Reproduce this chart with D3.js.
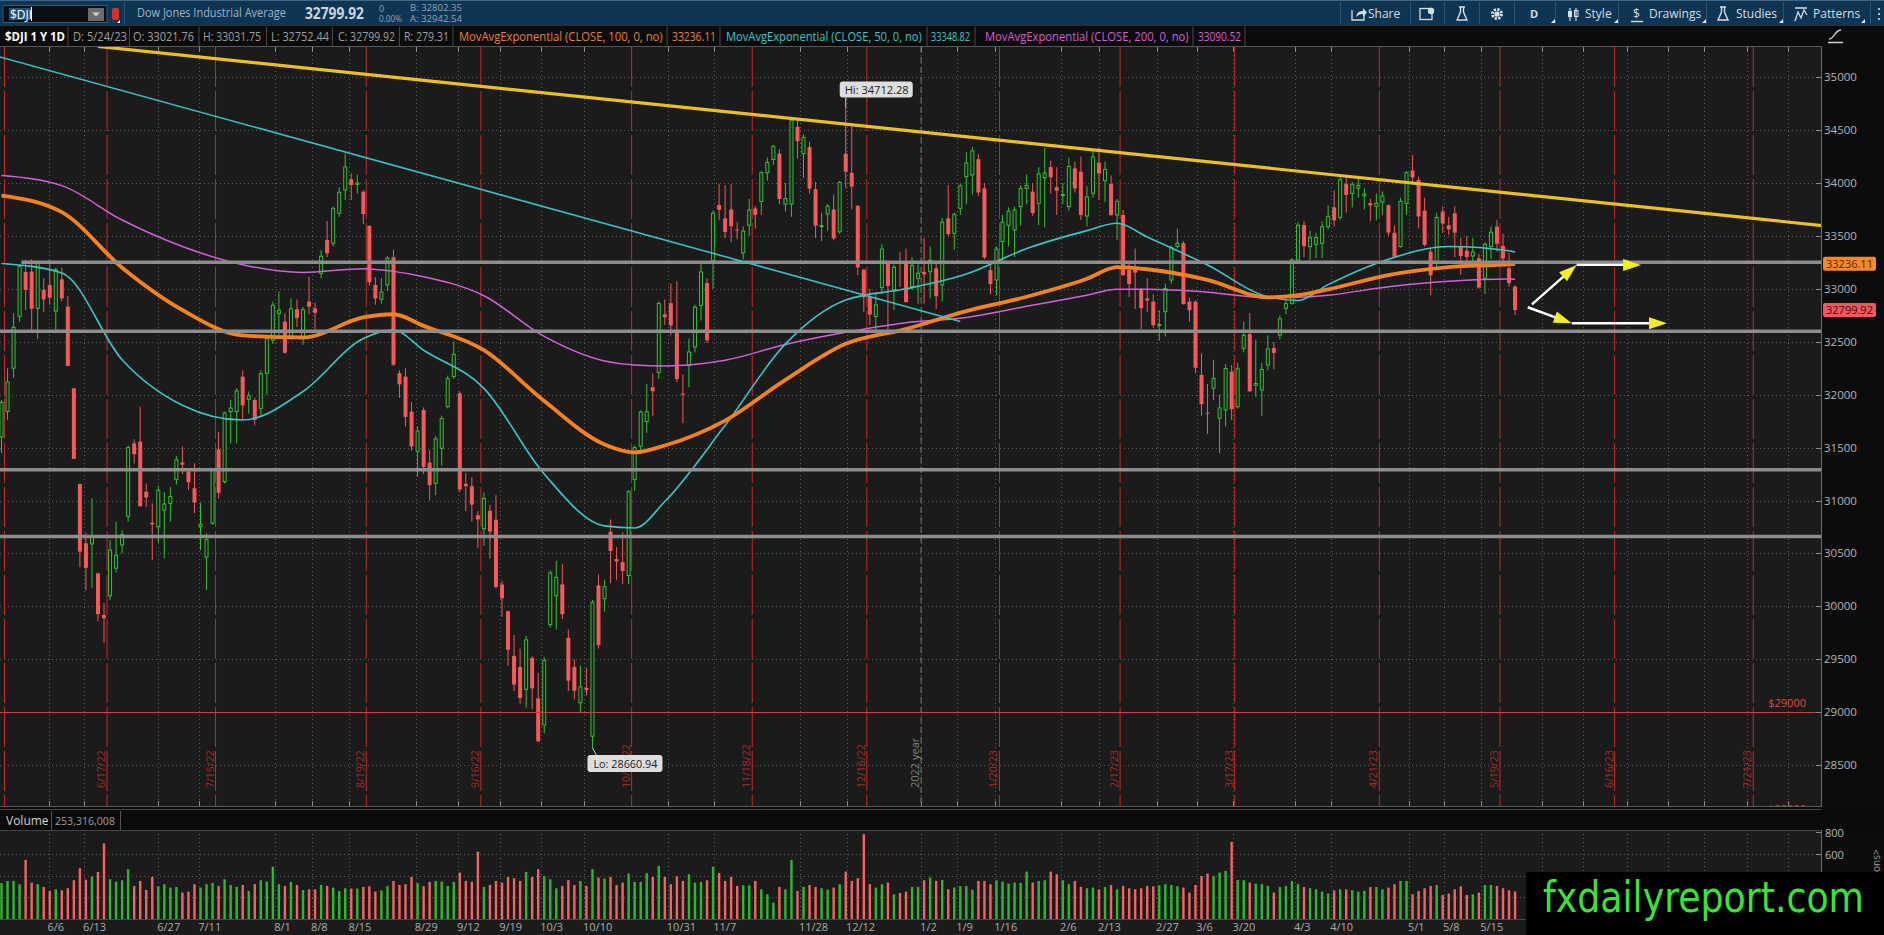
<!DOCTYPE html>
<html>
<head>
<meta charset="utf-8">
<script src="https://cdn.jsdelivr.net/npm/d3@7"></script>
<style>
  body { margin: 0; background: #0b0b0b; overflow: hidden; }
  svg text { font-family: "Open Sans", "DejaVu Sans", sans-serif; }
</style>
</head>
<body>
<svg id="chart"></svg>
<script>
// ---- sessions (trading days), month by month ----
const sessionMonths = [
  [5, 22, [24, 25, 26, 27, 31]],
  [6, 22, [1, 2, 3, 6, 7, 8, 9, 10, 13, 14, 15, 16, 17, 21, 22, 23, 24, 27, 28, 29, 30]],
  [7, 22, [1, 5, 6, 7, 8, 11, 12, 13, 14, 15, 18, 19, 20, 21, 22, 25, 26, 27, 28, 29]],
  [8, 22, [1, 2, 3, 4, 5, 8, 9, 10, 11, 12, 15, 16, 17, 18, 19, 22, 23, 24, 25, 26, 29, 30, 31]],
  [9, 22, [1, 2, 6, 7, 8, 9, 12, 13, 14, 15, 16, 19, 20, 21, 22, 23, 26, 27, 28, 29, 30]],
  [10, 22, [3, 4, 5, 6, 7, 10, 11, 12, 13, 14, 17, 18, 19, 20, 21, 24, 25, 26, 27, 28, 31]],
  [11, 22, [1, 2, 3, 4, 7, 8, 9, 10, 11, 14, 15, 16, 17, 18, 21, 22, 23, 25, 28, 29, 30]],
  [12, 22, [1, 2, 5, 6, 7, 8, 9, 12, 13, 14, 15, 16, 19, 20, 21, 22, 23, 27, 28, 29, 30]],
  [1, 23, [3, 4, 5, 6, 9, 10, 11, 12, 13, 17, 18, 19, 20, 23, 24, 25, 26, 27, 30, 31]],
  [2, 23, [1, 2, 3, 6, 7, 8, 9, 10, 13, 14, 15, 16, 17, 21, 22, 23, 24, 27, 28]],
  [3, 23, [1, 2, 3, 6, 7, 8, 9, 10, 13, 14, 15, 16, 17, 20, 21, 22, 23, 24, 27, 28, 29, 30, 31]],
  [4, 23, [3, 4, 5, 6, 10, 11, 12, 13, 14, 17, 18, 19, 20, 21, 24, 25, 26, 27, 28]],
  [5, 23, [1, 2, 3, 4, 5, 8, 9, 10, 11, 12, 15, 16, 17, 18, 19, 22, 23, 24, 25, 26, 30, 31]],
  [6, 23, [1, 2, 5, 6, 7, 8, 9, 12, 13, 14, 15, 16, 20, 21, 22, 23, 26, 27, 28, 29, 30]],
  [7, 23, [3, 5, 6, 7, 10, 11, 12, 13, 14, 17, 18, 19, 20, 21, 24, 25, 26, 27, 28, 31]]
];

// ---- daily OHLC, 5/24/22 .. 5/24/23 ----
const opens = [
  31600, 31840, 32250, 32740, 33160, 33163, 32816, 32989, 33036, 32790,
  33090, 32832, 32060, 31156, 30595, 30590, 30311, 29918, 30100, 30360,
  30580, 30850, 31540, 31556, 31084, 30790, 30753, 30910, 30973, 31200,
  31358, 31273, 31115, 30753, 30465, 30785, 31484, 31178, 31840, 31840,
  32170, 31957, 31950, 31871, 32202, 32517, 32769, 32690, 32548, 32807,
  32533, 32879, 32816, 33147, 33462, 33430, 33714, 33934, 34035, 33987,
  33918, 33594, 33037, 32901, 33037, 33298, 32202, 32170, 31840, 31462,
  31855, 31358, 31162, 31494, 31887, 32170, 32013, 31157, 31135, 30860,
  30734, 30903, 30818, 30207, 29954, 29532, 29427, 29216, 29511, 29131,
  28878, 29827, 30101, 30207, 29701, 29427, 29089, 29230, 28773, 30198,
  30072, 30705, 30447, 30418, 30291, 31198, 31514, 31746, 32071, 32210,
  32759, 32864, 32590, 32010, 32274, 32451, 32843, 33054, 33265, 33792,
  33666, 33750, 33560, 33340, 33602, 33759, 33826, 34096, 34222, 34277,
  33800, 33801, 34531, 34277, 34340, 33940, 33590, 33708, 33750, 33539,
  34277, 34096, 33784, 33181, 32928, 32738, 33012, 33244, 32991, 33244,
  33257, 33021, 33100, 33160, 33162, 33194, 33036, 33666, 33525, 33761,
  34060, 34076, 34224, 33950, 33178, 33084, 33446, 33600, 33556, 33777,
  33950, 33918, 33808, 34050, 34150, 33960, 33890, 33777, 34139, 34107,
  33688, 33903, 34192, 34022, 33990, 33698, 33698, 33178, 33200, 32995,
  32910, 32879, 32660, 32784, 33084, 33400, 33430, 32879, 32879, 32186,
  31830, 32060, 31777, 31855, 32217, 31887, 32438, 32573, 32090, 32044,
  32280, 32440, 32564, 32816, 32863, 33273, 33603, 33399, 33420, 33430,
  33587, 33770, 33676, 33990, 33900, 33950, 33880, 33810, 33780, 33820,
  33790, 33530, 33400, 33808, 34117, 34029, 33739, 33352, 33241, 33730,
  33600, 33714, 33399, 33360, 33310, 33289, 33100, 33399, 33588, 33405,
  33194, 33022
];
const highs = [
  31950, 32249, 32769, 33225, 33273, 33280, 33257, 33100, 33272, 33200,
  33200, 32930, 32060, 31160, 30690, 31020, 30320, 30030, 30626, 30800,
  30720, 31520, 31580, 31887, 31160, 30973, 31140, 31080, 31130, 31420,
  31510, 31290, 31350, 30980, 30690, 31300, 31650, 31840, 31950, 32060,
  32230, 32030, 31970, 32230, 32560, 32880, 32975, 32770, 32910, 32900,
  32830, 33115, 32870, 33365, 33640, 33780, 33960, 34281, 34090, 34080,
  33930, 33600, 33110, 33100, 33310, 33370, 32230, 32250, 31930, 31700,
  31880, 31480, 31610, 31800, 32180, 32501, 32030, 31260, 31220, 30900,
  31075, 30960, 31050, 30240, 29960, 29730, 29600, 29720, 29530, 29370,
  29520, 30340, 30430, 30400, 29780, 29500, 29440, 29420, 30060, 30300,
  30250, 30820, 30560, 30700, 31100, 31520, 31850, 32100, 32200, 32880,
  32900, 33050, 33070, 32190, 32530, 32850, 33250, 33100, 33740, 33990,
  33980, 33990, 33630, 33590, 33850, 33780, 34110, 34240, 34360, 34320,
  34000, 34590, 34595, 34460, 34390, 34010, 33720, 33800, 33890, 34020,
  34712, 34550, 33790, 33190, 33000, 32950, 33420, 33250, 33230, 33350,
  33380, 33300, 33230, 33480, 33400, 33250, 33670, 33980, 33720, 33990,
  34290, 34340, 34270, 34000, 33260, 33400, 33700, 33770, 33780, 33980,
  34080, 34000, 34150, 34330, 34210, 34150, 34000, 34240, 34200, 34250,
  33970, 34310, 34330, 34200, 34070, 33850, 33745, 33250, 33380, 33010,
  33100, 32950, 32800, 33050, 33410, 33570, 33450, 32920, 32890, 32390,
  32100, 32330, 32000, 32290, 32280, 32300, 32690, 32770, 32520, 32300,
  32560, 32500, 32750, 32900, 33290, 33630, 33640, 33550, 33530, 33640,
  33790, 33930, 34060, 34070, 34010, 34070, 33950, 33850, 33900, 33920,
  33800, 33600, 33860, 34110, 34265, 34060, 33860, 33380, 33720, 33780,
  33680, 33780, 33480, 33500, 33480, 33330, 33440, 33590, 33650, 33520,
  33340, 33032
];
const lows = [
  31450, 31761, 32160, 32690, 32800, 32612, 32530, 32780, 32850, 32580,
  32880, 32270, 31390, 30370, 30150, 30170, 29860, 29653, 30060, 30320,
  30500, 30800, 31350, 30940, 30940, 30438, 30600, 30455, 30800, 31150,
  31250, 31100, 30880, 30532, 30155, 30770, 31020, 31160, 31540, 31540,
  31760, 31820, 31710, 31800, 32000, 32480, 32530, 32390, 32520, 32640,
  32470, 32760, 32620, 33100, 33300, 33400, 33680, 33840, 33840, 33900,
  33610, 33030, 32850, 32860, 32980, 32270, 31970, 31700, 31470, 31225,
  31250, 31000, 31050, 31330, 31870, 32150, 31080, 30900, 30800, 30550,
  30570, 30450, 30170, 29900, 29440, 29200, 29080, 29040, 29030, 28715,
  28800, 29800, 29780, 29880, 29200, 29120, 28990, 29160, 28661, 29600,
  29950, 30220, 30250, 30210, 30210, 31090, 31440, 31640, 31800, 32150,
  32660, 32560, 32120, 31730, 32070, 32400, 32700, 32490, 33000, 33650,
  33480, 33440, 33470, 33280, 33500, 33570, 33700, 34020, 34170, 33800,
  33730, 33680, 34230, 34050, 33900, 33480, 33450, 33550, 33460, 33520,
  33950, 33750, 33130, 32780, 32660, 32580, 32950, 32580, 32800, 33020,
  32870, 32990, 32860, 32860, 32910, 32810, 32880, 33500, 33370, 33700,
  33800, 33890, 33880, 33280, 32950, 32940, 33250, 33400, 33300, 33600,
  33800, 33690, 33600, 33580, 33900, 33700, 33800, 33740, 33910, 33650,
  33590, 33860, 33840, 33820, 33690, 33460, 33120, 32920, 32810, 32620,
  32780, 32630, 32510, 32550, 33050, 33380, 32850, 32690, 32200, 31800,
  31630, 31950, 31446, 31700, 31760, 31870, 32400, 32030, 31980, 31800,
  32230, 32240, 32520, 32760, 32850, 33270, 33300, 33270, 33290, 33290,
  33560, 33590, 33650, 33720, 33770, 33860, 33750, 33640, 33650, 33700,
  33500, 33290, 33390, 33700, 34000, 33570, 33400, 32940, 33200, 33530,
  33510, 33300, 33130, 33230, 33200, 33000, 32950, 33280, 33350, 33240,
  33020, 32752
];
const closes = [
  31928, 32120, 32637, 33213, 32990, 32813, 33248, 32900, 32916, 33180,
  32910, 32272, 31393, 30517, 30364, 30668, 29927, 29888, 30530, 30483,
  30677, 31500, 31438, 30947, 31029, 30775, 31097, 30967, 31037, 31384,
  31338, 31173, 30981, 30772, 30630, 31288, 31072, 31827, 31874, 32036,
  31899, 31990, 31761, 32198, 32529, 32845, 32798, 32396, 32812, 32726,
  32803, 32832, 32774, 33309, 33336, 33761, 33912, 34152, 33980, 33999,
  33706, 33063, 32909, 32969, 33291, 32283, 32098, 31790, 31510, 31656,
  31318, 31145, 31581, 31774, 32151, 32381, 31104, 31135, 30961, 30822,
  31019, 30706, 30183, 30076, 29590, 29260, 29134, 29683, 29225, 28725,
  29490, 30316, 30273, 29926, 29297, 29202, 29239, 29210, 30038, 29634,
  30185, 30523, 30423, 30333, 31082, 31499, 31836, 31839, 32033, 32861,
  32732, 32653, 32147, 32001, 32403, 32827, 33160, 32513, 33715, 33747,
  33536, 33592, 33553, 33546, 33745, 33700, 34098, 34194, 34347, 33849,
  33852, 34589, 34395, 34429, 33947, 33596, 33597, 33781, 33476, 34005,
  34108, 33966, 33202, 32920, 32757, 32849, 33376, 33027, 33203, 33241,
  32875, 33220, 33147, 33136, 33269, 32930, 33631, 33517, 33704, 33973,
  34189, 34303, 33910, 33297, 33044, 33375, 33630, 33734, 33744, 33949,
  33978, 33717, 34086, 34093, 34054, 33926, 33891, 34156, 33949, 33699,
  33869, 34246, 34089, 34128, 33697, 33826, 33130, 33045, 33153, 32817,
  32889, 32657, 32662, 33004, 33391, 33431, 32856, 32798, 32255, 31910,
  31820, 32155, 31875, 32247, 31862, 32245, 32561, 32031, 32106, 32238,
  32432, 32395, 32717, 32860, 33274, 33601, 33403, 33483, 33485, 33587,
  33685, 33647, 34030, 33887, 33988, 33977, 33897, 33787, 33809, 33876,
  33531, 33302, 33827, 34098, 34052, 33684, 33415, 33128, 33674, 33618,
  33562, 33531, 33309, 33301, 33348, 33012, 33420, 33535, 33427, 33286,
  33055, 32799.92
];
// volume, millions of shares
const volumes = [
  330, 350, 350, 320, 544, 335, 320, 295, 258, 273,
  264, 283, 356, 467, 362, 390, 433, 695, 366, 344,
  356, 458, 304, 350, 267, 387, 301, 320, 289, 295,
  243, 252, 320, 289, 320, 332, 304, 366, 313, 295,
  313, 258, 320, 356, 344, 480, 320, 304, 341, 313,
  267, 273, 273, 313, 304, 289, 258, 283, 280, 280,
  295, 301, 252, 264, 301, 350, 313, 320, 387, 329,
  301, 341, 350, 344, 304, 341, 427, 350, 344, 620,
  295, 313, 350, 335, 387, 375, 350, 433, 387, 458,
  396, 366, 283, 304, 359, 313, 350, 304, 458, 381,
  372, 387, 313, 335, 418, 341, 341, 421, 387, 488,
  387, 320, 393, 350, 412, 335, 341, 356, 480, 424,
  350, 387, 304, 310, 310, 350, 273, 227, 150, 295,
  273, 544, 258, 295, 313, 295, 283, 270, 289, 320,
  436, 350, 375, 780, 320, 289, 320, 335, 227, 240,
  252, 295, 295, 356, 381, 350, 359, 273, 289, 301,
  304, 270, 350, 350, 320, 356, 344, 326, 335, 332,
  436, 335, 350, 356, 436, 412, 356, 320, 350, 295,
  283, 289, 273, 295, 313, 273, 304, 283, 273, 283,
  304, 301, 310, 320, 313, 301, 289, 243, 313, 396,
  418, 396, 427, 442, 710, 359, 356, 335, 326, 320,
  304, 243, 295, 304, 350, 320, 295, 283, 273, 252,
  234, 264, 273, 273, 264, 252, 258, 295, 295, 273,
  289, 320, 350, 350, 227, 258, 283, 304, 313, 221,
  234, 273, 301, 221, 227, 243, 313, 313, 304, 283,
  264, 253.316008
];

// ---- moving averages at these bar slots ----
const maSlots = [0, 10, 20, 30, 40, 50, 60, 65, 70, 80, 90, 100, 105, 110, 120, 130, 140, 150, 160, 170, 180, 185, 190, 200, 210, 215, 220, 230, 240, 250, 251];
const ema50 = [33240, 33150, 32330, 31900, 31760, 32030, 32530, 32610, 32420, 32060, 31250, 30760, 30740, 30990, 31710, 32480, 32895, 33000, 33140, 33380, 33550, 33619, 33490, 33225, 32925, 32890, 33040, 33280, 33400, 33360, 33348.82];
const ema100 = [33880, 33725, 33200, 32800, 32560, 32540, 32730, 32760, 32650, 32420, 31940, 31530, 31455, 31520, 31755, 32140, 32480, 32620, 32790, 32925, 33095, 33205, 33185, 33085, 32920, 32940, 32995, 33130, 33205, 33232, 33236.11];
const ema200 = [34070, 33975, 33650, 33400, 33227, 33155, 33190, 33165, 33115, 32935, 32550, 32318, 32280, 32272, 32325, 32475, 32590, 32680, 32730, 32835, 32940, 32995, 32995, 32968, 32915, 32920, 32940, 33020, 33072, 33093, 33090.52];

// ---- axes ----
const priceTicks = [28500, 29000, 29500, 30000, 30500, 31000, 31500, 32000, 32500, 33000, 33500, 34000, 34500, 35000];
const volumeTicks = [600, 800];
const tickLabels = ["6/6", "6/13", "6/27", "7/11", "8/1", "8/8", "8/15", "8/29", "9/12", "9/19", "10/3", "10/10", "10/31", "11/7", "11/28", "12/12", "1/2", "1/9", "1/16", "2/6", "2/13", "2/27", "3/6", "3/20", "4/3", "4/10", "5/1", "5/8", "5/15"];
const tickSlots = [7.8, 13.7, 26.0, 32.8, 45.4, 51.5, 57.7, 68.7, 75.7, 82.7, 89.5, 96.6, 110.5, 118.2, 132.4, 140.2, 152.5, 158.5, 164.8, 175.7, 182.0, 191.6, 198.3, 204.3, 214.5, 220.5, 233.4, 239.2, 245.4];
const futureSlots = [255.5, 262.3, 269.6, 276.4, 282.3, 289.5, 296.3];
const expiryDates = ["6/17/22", "7/15/22", "8/19/22", "9/16/22", "10/21/22", "11/18/22", "12/16/22", "1/20/23", "2/17/23", "3/17/23", "4/21/23", "5/19/23", "6/16/23", "7/21/23"];

// ---- drawings ----
const levelPrices = [33250, 32600, 31290, 30660];
const levelFrom = [3.3, -0.25, -0.25, -0.25];
const yellowTrend = [[16, 35290], [302, 33597]];
const cyanTrend = [[-0.25, 35191], [159, 32692]];
const priceAlerts = [29000, 28000];
const arrowUp = [[253.8, 32854], [261.2, 33226], [271.9, 33226]];
const arrowDown = [[253.1, 32826], [260.4, 32675], [276.2, 32675]];
const hiBar = 140, hiValue = 34712.28;
const loBar = 98, loValue = 28660.94;

// ------------------------------------------------------------
const sessions = sessionMonths.flatMap(([m, yy, days]) => days.map(d => `${m}/${d}/${yy}`));

const W = 1884, H = 935;
const plotRight = 1822, plotTop = 47, plotBottom = 806;
const bg = '#1b1b1b', green = '#33c233', red = '#f25a5c';

const svg = d3.select('#chart').attr('width', W).attr('height', H);

const x = d3.scaleLinear().domain([-0.25, 301.9]).range([0, plotRight]);
const y = d3.scaleLinear().domain([28104, 35285]).range([807, 47]);
const yv = d3.scaleLinear().domain([0, 800]).range([919, 832]);

// squeeze a text horizontally to a given width (keeps glyph height)
function fitText(sel, width) {
  const node = sel.node();
  const natural = node.getComputedTextLength();
  if (!natural) return sel;
  const x0 = +sel.attr('x'), y0 = +sel.attr('y');
  sel.attr('x', 0).attr('y', 0)
     .attr('transform', `translate(${x0},${y0}) scale(${width / natural},1)`);
  return sel;
}

svg.append('rect').attr('width', W).attr('height', H).attr('fill', '#0b0b0b');
svg.append('rect').attr('x', 0).attr('y', plotTop).attr('width', plotRight).attr('height', plotBottom - plotTop).attr('fill', bg);
svg.append('rect').attr('x', 0).attr('y', 830).attr('width', plotRight).attr('height', 105).attr('fill', bg);

const defs = svg.append('defs');
defs.append('clipPath').attr('id', 'priceClip').append('rect')
    .attr('x', 0).attr('y', plotTop).attr('width', plotRight).attr('height', plotBottom - plotTop);
defs.append('clipPath').attr('id', 'volClip').append('rect')
    .attr('x', 0).attr('y', 830).attr('width', plotRight).attr('height', 89);

const plot = svg.append('g').attr('clip-path', 'url(#priceClip)');

// grid
plot.selectAll('.hgrid').data(priceTicks).enter().append('line')
    .attr('x1', 0).attr('x2', plotRight)
    .attr('y1', d => Math.round(y(d)) + 0.5).attr('y2', d => Math.round(y(d)) + 0.5)
    .attr('stroke', '#5c5c5c').attr('stroke-dasharray', '1,3');
plot.selectAll('.vgrid').data(tickSlots.concat(futureSlots)).enter().append('line')
    .attr('x1', d => Math.round(x(d)) + 0.5).attr('x2', d => Math.round(x(d)) + 0.5)
    .attr('y1', plotTop).attr('y2', plotBottom)
    .attr('stroke', '#5c5c5c').attr('stroke-dasharray', '1,3');
plot.selectAll('.ttick').data(tickSlots.concat(futureSlots)).enter().append('path')
    .attr('d', d => `M${Math.round(x(d)) + 0.5},${plotTop}v5M${Math.round(x(d)) + 0.5},${plotBottom - 5}v5`)
    .attr('stroke', '#8a8a8a');

// expiration lines
const expIdx = expiryDates.map(d => sessions.indexOf(d));
plot.selectAll('.exp').data(expIdx).enter().append('line')
    .attr('x1', d => x(d) + 3).attr('x2', d => x(d) + 3)
    .attr('y1', plotTop).attr('y2', plotBottom)
    .attr('stroke', '#c42a2d').attr('stroke-dasharray', '40,4');
plot.append('line')
    .attr('x1', x(0) + 3).attr('x2', x(0) + 3).attr('y1', plotTop).attr('y2', plotBottom)
    .attr('stroke', '#c42a2d').attr('stroke-dasharray', '40,4');
plot.selectAll('.expLabel').data(expIdx).enter().append('text')
    .attr('transform', d => `translate(${x(d) + 1},788) rotate(-90)`)
    .attr('font-size', 10.5).attr('fill', '#a82a2a')
    .text((d, i) => expiryDates[i]);

// year separator
const yearSlot = 152.5;
plot.append('line')
    .attr('x1', x(yearSlot)).attr('x2', x(yearSlot)).attr('y1', plotTop).attr('y2', plotBottom)
    .attr('stroke', '#7a7a7a').attr('stroke-dasharray', '6,4');
plot.append('text')
    .attr('transform', `translate(${x(yearSlot) - 2},788) rotate(-90)`)
    .attr('font-size', 11).attr('fill', '#7f7f7f')
    .text('2022 year');

// candles
const bars = d3.range(closes.length);
const isUp = i => closes[i] >= opens[i];
const candle = plot.selectAll('.candle').data(bars).enter().append('g');
candle.append('line')
    .attr('x1', i => x(i)).attr('x2', i => x(i))
    .attr('y1', i => y(highs[i])).attr('y2', i => y(lows[i]))
    .attr('stroke', i => isUp(i) ? green : red).attr('stroke-width', 1);
candle.append('rect')
    .attr('x', i => isUp(i) ? x(i) - 1.5 : x(i) - 2)
    .attr('width', i => isUp(i) ? 3 : 4)
    .attr('y', i => y(Math.max(opens[i], closes[i])))
    .attr('height', i => Math.max(1, Math.abs(y(opens[i]) - y(closes[i]))))
    .attr('fill', i => isUp(i) ? bg : red)
    .attr('stroke', i => isUp(i) ? green : 'none')
    .attr('stroke-width', 1);

// moving averages
const maLine = vals => d3.line()
    .x((d, i) => x(maSlots[i]))
    .y(d => y(d))
    .curve(d3.curveMonotoneX)(vals);
plot.append('path').attr('d', maLine(ema200)).attr('fill', 'none').attr('stroke', '#d45fd8').attr('stroke-width', 1.5);
plot.append('path').attr('d', maLine(ema50)).attr('fill', 'none').attr('stroke', '#3cc6c8').attr('stroke-width', 1.6);
plot.append('path').attr('d', maLine(ema100)).attr('fill', 'none').attr('stroke', '#f5821f').attr('stroke-width', 3.8);

// horizontal levels
plot.selectAll('.level').data(levelPrices).enter().append('line')
    .attr('x1', (d, i) => x(levelFrom[i])).attr('x2', plotRight)
    .attr('y1', d => y(d)).attr('y2', d => y(d))
    .attr('stroke', '#8d8d8d').attr('stroke-width', 3.5);

// price alert lines
plot.selectAll('.alert').data(priceAlerts).enter().append('line')
    .attr('x1', 0).attr('x2', plotRight)
    .attr('y1', d => Math.round(y(d)) + 0.5).attr('y2', d => Math.round(y(d)) + 0.5)
    .attr('stroke', '#d83a3a').attr('stroke-width', 1);
plot.selectAll('.alertLabel').data(priceAlerts).enter().append('text')
    .attr('x', 1806).attr('y', d => y(d) - 5)
    .attr('text-anchor', 'end').attr('font-size', 11).attr('fill', '#e04848')
    .text(d => '$' + d);

// trend lines
const trend = d3.line().x(d => x(d[0])).y(d => y(d[1]));
plot.append('path').attr('d', trend(cyanTrend)).attr('fill', 'none').attr('stroke', '#3bbcc4').attr('stroke-width', 1.6);
plot.append('path').attr('d', trend(yellowTrend)).attr('fill', 'none').attr('stroke', '#ecc11e').attr('stroke-width', 3.2);

// arrows
function drawArrow(pts) {
  for (let k = 0; k < pts.length - 1; k++) {
    const x1 = x(pts[k][0]), y1 = y(pts[k][1]);
    const x2 = x(pts[k + 1][0]), y2 = y(pts[k + 1][1]);
    const len = Math.hypot(x2 - x1, y2 - y1);
    const ux = (x2 - x1) / len, uy = (y2 - y1) / len;
    const hl = 18, hw = 6;
    plot.append('line')
        .attr('x1', x1).attr('y1', y1).attr('x2', x2 - ux * hl * 0.6).attr('y2', y2 - uy * hl * 0.6)
        .attr('stroke', '#ffffff').attr('stroke-width', 2.4);
    const bx = x2 - ux * hl, by = y2 - uy * hl;
    plot.append('path')
        .attr('d', `M${x2},${y2}L${bx - uy * hw},${by + ux * hw}L${bx + uy * hw},${by - ux * hw}Z`)
        .attr('fill', '#f4ee1c');
  }
}
drawArrow(arrowUp);
drawArrow(arrowDown);

// high / low bubbles
const hx = x(hiBar), hy = y(hiValue);
plot.append('line').attr('x1', hx).attr('x2', hx).attr('y1', hy).attr('y2', hy - 10).attr('stroke', '#d8d8d8');
plot.append('rect').attr('x', hx - 6).attr('y', hy - 26).attr('width', 73).attr('height', 16).attr('rx', 3).attr('fill', '#dedede');
fitText(plot.append('text').attr('x', hx - 1).attr('y', hy - 14).attr('font-size', 11).attr('fill', '#1c1c1c')
    .text('Hi: ' + hiValue), 64);
const lx = x(loBar), ly = y(loValue);
plot.append('line').attr('x1', lx).attr('x2', lx + 4).attr('y1', ly).attr('y2', ly + 7).attr('stroke', '#d8d8d8');
plot.append('rect').attr('x', lx - 5).attr('y', ly + 7).attr('width', 75).attr('height', 17).attr('rx', 3).attr('fill', '#dedede');
fitText(plot.append('text').attr('x', lx + 1).attr('y', ly + 20).attr('font-size', 11).attr('fill', '#1c1c1c')
    .text('Lo: ' + loValue), 64);

// panel borders
svg.append('line').attr('x1', 0).attr('x2', plotRight).attr('y1', 46.5).attr('y2', 46.5).attr('stroke', '#555');
svg.append('line').attr('x1', 0).attr('x2', W).attr('y1', 806.5).attr('y2', 806.5).attr('stroke', '#5a5a5a');
svg.append('line').attr('x1', 0).attr('x2', W).attr('y1', 809.5).attr('y2', 809.5).attr('stroke', '#444');

// right price axis
const axisG = svg.append('g');
axisG.append('rect').attr('x', plotRight).attr('y', 25).attr('width', W - plotRight).attr('height', 910).attr('fill', '#0c0c0c');
axisG.append('line').attr('x1', plotRight - 0.5).attr('x2', plotRight - 0.5).attr('y1', plotTop).attr('y2', plotBottom).attr('stroke', '#6a6a6a');
axisG.selectAll('.ptick').data(priceTicks).enter().append('line')
    .attr('x1', plotRight - 6).attr('x2', plotRight - 1)
    .attr('y1', d => Math.round(y(d)) + 0.5).attr('y2', d => Math.round(y(d)) + 0.5)
    .attr('stroke', '#8a8a8a');
axisG.selectAll('.plabel').data(priceTicks).enter().append('text')
    .attr('x', 1824).attr('y', d => y(d) + 4)
    .attr('font-size', 11.5).attr('fill', '#b5b5b5')
    .text(d => d);

// last value tags
const tags = [[ema100[ema100.length - 1], '#f28a2c', '#5a2000'], [closes[closes.length - 1], '#ea5a5e', '#4a0606']];
tags.forEach(([v, fill, ink]) => {
  axisG.append('rect').attr('x', 1823).attr('y', y(v) - 7).attr('width', 53).attr('height', 14).attr('rx', 2).attr('fill', fill);
  axisG.append('text').attr('x', 1849.5).attr('y', y(v) + 4).attr('text-anchor', 'middle')
      .attr('font-size', 11).attr('fill', ink).text(v.toFixed(2));
});

// ---- volume panel ----
svg.append('rect').attr('x', 0).attr('y', 810).attr('width', W).attr('height', 20).attr('fill', '#0a0a0a');
svg.append('line').attr('x1', 0).attr('x2', plotRight).attr('y1', 830.5).attr('y2', 830.5).attr('stroke', '#444');
svg.append('text').attr('x', 6).attr('y', 825).attr('font-size', 12).attr('fill', '#d2d2d2').text('Volume');
svg.append('line').attr('x1', 51.5).attr('x2', 51.5).attr('y1', 811).attr('y2', 830).attr('stroke', '#555');
fitText(svg.append('text').attr('x', 55).attr('y', 825).attr('font-size', 11.5).attr('fill', '#9c9c9c')
    .text(d3.format(',')(Math.round(volumes[volumes.length - 1] * 1e6))), 60);
svg.append('line').attr('x1', 120.5).attr('x2', 120.5).attr('y1', 811).attr('y2', 830).attr('stroke', '#555');

const vol = svg.append('g').attr('clip-path', 'url(#volClip)');
vol.selectAll('.vgridh').data([200, 400, 600]).enter().append('line')
    .attr('x1', 0).attr('x2', plotRight)
    .attr('y1', d => Math.round(yv(d)) + 0.5).attr('y2', d => Math.round(yv(d)) + 0.5)
    .attr('stroke', '#5c5c5c').attr('stroke-dasharray', '1,3');
vol.selectAll('.vgridv').data(tickSlots.concat(futureSlots)).enter().append('line')
    .attr('x1', d => Math.round(x(d)) + 0.5).attr('x2', d => Math.round(x(d)) + 0.5)
    .attr('y1', 830).attr('y2', 919)
    .attr('stroke', '#5c5c5c').attr('stroke-dasharray', '1,3');
vol.selectAll('.vbar').data(bars).enter().append('rect')
    .attr('x', i => x(i) - 1.2).attr('width', 2.4)
    .attr('y', i => yv(volumes[i])).attr('height', i => yv(0) - yv(volumes[i]))
    .attr('fill', i => isUp(i) ? '#2fb82f' : '#f06464');
svg.append('line').attr('x1', 0).attr('x2', plotRight).attr('y1', 919.5).attr('y2', 919.5).attr('stroke', '#4a4a4a');
svg.append('line').attr('x1', plotRight - 0.5).attr('x2', plotRight - 0.5).attr('y1', 830).attr('y2', 919).attr('stroke', '#6a6a6a');
svg.selectAll('.vlabel').data(volumeTicks).enter().append('text')
    .attr('x', 1825).attr('y', d => yv(d) + 5).attr('font-size', 11).attr('fill', '#b5b5b5').text(d => d);
svg.selectAll('.vtick').data(volumeTicks).enter().append('line')
    .attr('x1', plotRight - 6).attr('x2', plotRight - 1)
    .attr('y1', d => Math.round(yv(d)) + 0.5).attr('y2', d => Math.round(yv(d)) + 0.5).attr('stroke', '#8a8a8a');

// x axis labels
svg.selectAll('.xlabel').data(tickLabels).enter().append('text')
    .attr('x', (d, i) => x(tickSlots[i]) - 1).attr('y', 931)
    .attr('font-size', 11).attr('fill', '#ababab')
    .text(d => d);

// ---- header toolbar ----
const hdr = svg.append('g');
hdr.append('rect').attr('width', W).attr('height', 25).attr('fill', '#0f3555');
hdr.append('line').attr('x1', 0).attr('x2', W).attr('y1', 0.5).attr('y2', 0.5).attr('stroke', '#3d6585');
hdr.append('rect').attr('x', 3).attr('y', 5.5).attr('width', 104).attr('height', 17).attr('fill', '#0b0f14').attr('stroke', '#2f5b7d');
hdr.append('rect').attr('x', 9).attr('y', 8).attr('width', 22).attr('height', 12).attr('fill', '#21507a');
hdr.append('text').attr('x', 10).attr('y', 18.5).attr('font-size', 12).attr('fill', '#ffffff').text('$DJI');
hdr.append('line').attr('x1', 31.5).attr('x2', 31.5).attr('y1', 7).attr('y2', 21).attr('stroke', '#ffffff');
hdr.append('rect').attr('x', 88).attr('y', 8).attr('width', 16).attr('height', 13).attr('fill', '#6c6c6c');
hdr.append('path').attr('d', 'M92,12.5h8l-4,4z').attr('fill', '#cfcfcf');
hdr.append('rect').attr('x', 112).attr('y', 8).attr('width', 7).attr('height', 12).attr('rx', 2).attr('fill', '#cf2f2f');
hdr.append('path').attr('d', 'M120,23h-3l3,-3z').attr('fill', '#ffffff');
hdr.append('line').attr('x1', 124.5).attr('x2', 124.5).attr('y1', 2).attr('y2', 24).attr('stroke', '#2a5373');
fitText(hdr.append('text').attr('x', 137).attr('y', 17).attr('font-size', 12.5).attr('fill', '#9fb3c3')
    .text('Dow Jones Industrial Average'), 149);
fitText(hdr.append('text').attr('x', 305).attr('y', 18.5).attr('font-size', 15.5).attr('font-weight', 'bold').attr('fill', '#c9d4dc')
    .text('32799.92'), 59);
hdr.append('text').attr('x', 379).attr('y', 12).attr('font-size', 9).attr('fill', '#8fa4b5').text('0');
fitText(hdr.append('text').attr('x', 379).attr('y', 22).attr('font-size', 9).attr('fill', '#8fa4b5').text('0.00%'), 23);
fitText(hdr.append('text').attr('x', 410).attr('y', 11).attr('font-size', 9).attr('fill', '#8fa4b5').text('B: 32802.35'), 52);
fitText(hdr.append('text').attr('x', 410).attr('y', 22).attr('font-size', 9).attr('fill', '#8fa4b5').text('A: 32942.54'), 52);

[1340, 1410, 1444, 1479, 1514, 1555, 1618, 1706, 1783, 1870].forEach(sx => {
  hdr.append('line').attr('x1', sx + 0.5).attr('x2', sx + 0.5).attr('y1', 2).attr('y2', 24).attr('stroke', '#2a5373');
});
const btnInk = '#d3dee6';
// Share
hdr.append('path').attr('d', 'M1352,10v10h12v-5').attr('fill', 'none').attr('stroke', btnInk).attr('stroke-width', 1.3);
hdr.append('path').attr('d', 'M1356,17c1,-4 3,-6 7,-6v-3l4,4.5l-4,4.5v-3c-3,0 -5,1 -7,3z').attr('fill', btnInk);
hdr.append('text').attr('x', 1368).attr('y', 17.5).attr('font-size', 12).attr('fill', btnInk).text('Share');
// icon buttons
hdr.append('rect').attr('x', 1420).attr('y', 8.5).attr('width', 12).attr('height', 11).attr('fill', 'none').attr('stroke', btnInk).attr('stroke-width', 1.3);
hdr.append('circle').attr('cx', 1431).attr('cy', 11).attr('r', 3.2).attr('fill', btnInk);
hdr.append('path').attr('d', 'M1459,7h6M1460.5,7v5l-3.5,8h10l-3.5,-8v-5').attr('fill', 'none').attr('stroke', btnInk).attr('stroke-width', 1.4);
hdr.append('circle').attr('cx', 1497).attr('cy', 14).attr('r', 4.5).attr('fill', 'none').attr('stroke', btnInk).attr('stroke-width', 3).attr('stroke-dasharray', '2.2,1.3');
hdr.append('circle').attr('cx', 1497).attr('cy', 14).attr('r', 2.6).attr('fill', btnInk);
hdr.append('text').attr('x', 1530).attr('y', 18).attr('font-size', 11).attr('font-weight', 'bold').attr('fill', btnInk).text('D');
// Style
hdr.append('path').attr('d', 'M1570,8v13M1576,8v13').attr('stroke', btnInk).attr('stroke-width', 1.2);
hdr.append('rect').attr('x', 1568).attr('y', 11).attr('width', 4).attr('height', 6).attr('fill', btnInk);
hdr.append('rect').attr('x', 1574.5).attr('y', 10.5).attr('width', 3.5).attr('height', 6).attr('fill', 'none').attr('stroke', btnInk);
hdr.append('text').attr('x', 1585).attr('y', 18).attr('font-size', 12).attr('fill', btnInk).text('Style');
// Drawings
hdr.append('text').attr('x', 1633).attr('y', 18).attr('font-size', 12).attr('fill', btnInk).text('$');
hdr.append('line').attr('x1', 1631).attr('x2', 1643).attr('y1', 21.5).attr('y2', 21.5).attr('stroke', btnInk).attr('stroke-width', 1.4);
hdr.append('text').attr('x', 1649).attr('y', 18).attr('font-size', 12).attr('fill', btnInk).text('Drawings');
// Studies
hdr.append('path').attr('d', 'M1720,7h6M1721.5,7v5l-3.5,8h10l-3.5,-8v-5').attr('fill', 'none').attr('stroke', btnInk).attr('stroke-width', 1.4);
hdr.append('text').attr('x', 1736).attr('y', 18).attr('font-size', 12).attr('fill', btnInk).text('Studies');
// Patterns
hdr.append('path').attr('d', 'M1795,8h12M1795,21l3,-9l3,6l3,-8l3,5').attr('fill', 'none').attr('stroke', btnInk).attr('stroke-width', 1.3);
hdr.append('text').attr('x', 1813).attr('y', 18).attr('font-size', 12).attr('fill', btnInk).text('Patterns');
[1552, 1615, 1703, 1780, 1862].forEach(cx => {
  hdr.append('path').attr('d', `M${cx + 3},${23}h-4l4,-4z`).attr('fill', '#e8eef2');
});
[9, 14, 19].forEach(cy => hdr.append('circle').attr('cx', 1879).attr('cy', cy).attr('r', 1.1).attr('fill', btnInk));

// second header row: symbol and study legend
const row = svg.append('g');
row.append('rect').attr('x', 0).attr('y', 25).attr('width', W).attr('height', 21).attr('fill', '#0b0b0b');
row.append('line').attr('x1', 0).attr('x2', W).attr('y1', 25.5).attr('y2', 25.5).attr('stroke', '#2e2e2e');
const legend = [
  [5, '$DJI 1 Y 1D', '#ffffff', 60, true],
  [73, 'D: 5/24/23', '#a0a0a0', 54],
  [133, 'O: 33021.76', '#a0a0a0', 61],
  [203, 'H: 33031.75', '#a0a0a0', 58],
  [271, 'L: 32752.44', '#a0a0a0', 58],
  [338, 'C: 32799.92', '#a0a0a0', 57],
  [404, 'R: 279.31', '#a0a0a0', 45],
  [459, 'MovAvgExponential (CLOSE, 100, 0, no)', '#e8822e', 204],
  [672, '33236.11', '#e8822e', 44],
  [726, 'MovAvgExponential (CLOSE, 50, 0, no)', '#3cc8cc', 196],
  [931, '33348.82', '#3cc8cc', 39],
  [985, 'MovAvgExponential (CLOSE, 200, 0, no)', '#d45fd8', 204],
  [1198, '33090.52', '#d45fd8', 43]
];
const seps = [68, 129.5, 199, 266.5, 332.5, 399.5, 453, 667, 720, 927, 975, 1193, 1245];
legend.forEach(([lx0, txt, col, tl, bold]) => {
  fitText(row.append('text').attr('x', lx0).attr('y', 41).attr('font-size', bold ? 13 : 12.5)
      .attr('font-weight', bold ? 'bold' : 'normal').attr('fill', col)
      .text(txt), tl);
});
seps.forEach(sx => row.append('line').attr('x1', sx).attr('x2', sx).attr('y1', 27).attr('y2', 46).attr('stroke', '#4a4a4a'));
row.append('path').attr('d', 'M1828,42.5h15M1829,39c5,0 6,-9 12,-9').attr('fill', 'none').attr('stroke', '#d0d0d0').attr('stroke-width', 1.3);

// ---- watermark ----
svg.append('text').attr('transform', 'translate(1880,872) rotate(-90)')
    .attr('font-size', 10).attr('fill', '#9a9a9a').text('ons>');
svg.append('rect').attr('x', 1526).attr('y', 872).attr('width', W - 1526).attr('height', H - 872).attr('fill', '#000000');
fitText(svg.append('text').attr('x', 1543).attr('y', 912)
    .style('font-family', '"Liberation Sans Narrow", "DejaVu Sans Condensed", "Roboto", sans-serif')
    .attr('font-size', 43).attr('fill', '#3ee03a')
    .text('fxdailyreport.com'), 321);
</script>
</body>
</html>
